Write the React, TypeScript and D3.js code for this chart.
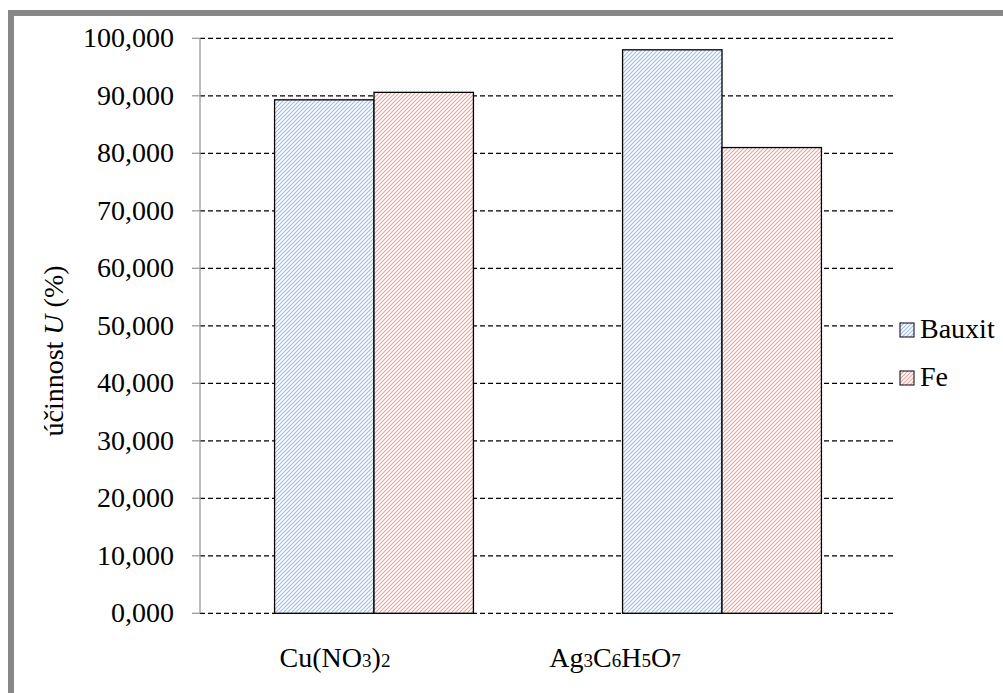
import React from "react";
import * as d3 from "d3";

const categories = ["Cu(NO3)2", "Ag3C6H5O7"];
const seriesNames = ["Bauxit", "Fe"];
const bauxitValues = [89.3, 98.0];
const feValues = [90.6, 81.0];
const yTicks = [0, 10, 20, 30, 40, 50, 60, 70, 80, 90, 100];
const labelOffsets = [-39, -107];

const W = 1003;
const H = 693;
const margin = { left: 200, right: 107, top: 38.3, bottom: 79.7 };
const hatchColors = ["#9dbbec", "#eaa0a0"];
const FONT = "Liberation Serif";

function Formula({ text, x, y }: { text: string; x: number; y: number }) {
  const parts = text.match(/[0-9]+|[^0-9]+/g) || [];
  return (
    <text x={x} y={y} textAnchor="middle" fontFamily={FONT} fontSize={28} fill="#000">
      {parts.map((p, i) =>
        /^[0-9]+$/.test(p) ? (
          <tspan key={i} fontSize={19}>{p}</tspan>
        ) : (
          <tspan key={i}>{p}</tspan>
        )
      )}
    </text>
  );
}

export default function App() {
  const x0 = d3
    .scaleBand<string>()
    .domain(categories)
    .range([margin.left, W - margin.right])
    .paddingInner(1.5 / 3.5)
    .paddingOuter(0.75 / 3.5);
  const x1 = d3.scaleBand<string>().domain(seriesNames).range([0, x0.bandwidth()]);
  const y = d3.scaleLinear().domain([0, 100]).range([H - margin.bottom, margin.top]);
  const values = [bauxitValues, feValues];
  const fmt = (v: number) => d3.format(".3f")(v).replace(".", ",");
  const xr = W - margin.right;

  return (
    <svg width={W} height={H} style={{ position: "absolute", left: 0, top: 0 }}>
      <defs>
        {hatchColors.map((c, i) => (
          <pattern key={i} id={`hatch${i}`} width={4} height={4} patternUnits="userSpaceOnUse">
            <rect width={4} height={4} fill="#fff" />
            <path d="M-1,1 l2,-2 M0,4 l4,-4 M3,5 l2,-2" stroke={c} strokeWidth={1.1} />
          </pattern>
        ))}
      </defs>
      <rect x={0} y={0} width={W} height={H} fill="#fff" />
      <rect x={11} y={13} width={W + 20} height={H + 20} fill="#fff" stroke="#878787" strokeWidth={6} />

      {yTicks.map((t) => (
        <g key={t}>
          <line x1={margin.left} x2={xr} y1={y(t)} y2={y(t)} stroke="#000" strokeWidth={1.3} strokeDasharray="5,3" />
          <line x1={margin.left - 8} x2={margin.left} y1={y(t)} y2={y(t)} stroke="#9a9a9a" strokeWidth={1.3} />
          <text x={174} y={y(t) + 9} textAnchor="end" fontFamily={FONT} fontSize={28} fill="#000">
            {fmt(t)}
          </text>
        </g>
      ))}
      <line x1={margin.left} x2={margin.left} y1={y(100)} y2={y(0)} stroke="#9a9a9a" strokeWidth={1.3} />

      {categories.map((c, ci) =>
        seriesNames.map((s, si) => {
          const bx = (x0(c) as number) + (x1(s) as number);
          const v = values[si][ci];
          return (
            <rect
              key={c + s}
              x={bx}
              y={y(v)}
              width={x1.bandwidth()}
              height={y(0) - y(v)}
              fill={`url(#hatch${si})`}
              stroke="#000"
              strokeWidth={1.3}
            />
          );
        })
      )}

      {categories.map((c, ci) => (
        <Formula key={c} text={c} x={(x0(c) as number) + x0.bandwidth() / 2 + labelOffsets[ci]} y={667} />
      ))}

      <text
        transform={`translate(63,351) rotate(-90)`}
        textAnchor="middle"
        fontFamily={FONT}
        fontSize={28}
        fill="#000"
      >
        účinnost <tspan fontStyle="italic">U</tspan> (%)
      </text>

      {seriesNames.map((s, i) => (
        <g key={s} transform={`translate(900,${323 + i * 48})`}>
          <rect x={0} y={0} width={14} height={14} fill={`url(#hatch${i})`} stroke="#000" strokeWidth={1} />
          <text x={20} y={15} fontFamily={FONT} fontSize={28} fill="#000">
            {s}
          </text>
        </g>
      ))}
    </svg>
  );
}
